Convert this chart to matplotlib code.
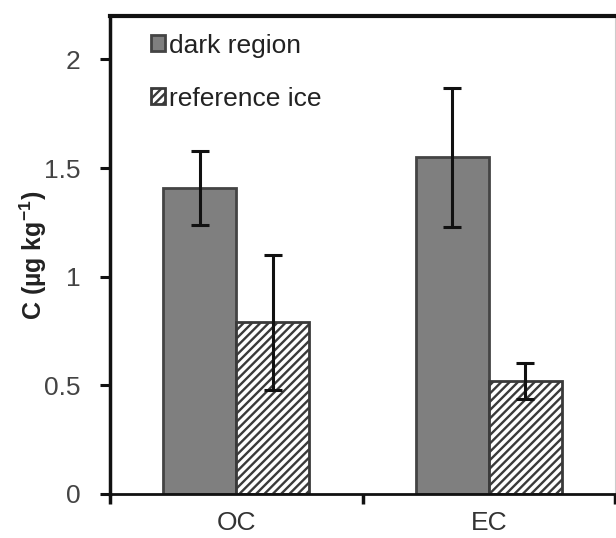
import numpy as np
import matplotlib
matplotlib.use('Agg')
import matplotlib.pyplot as plt

categories = ['OC', 'EC']
series = ['dark region', 'reference ice']
dark_vals = [1.41, 1.55]
dark_err = [0.17, 0.32]
ref_vals = [0.79, 0.52]
ref_err = [0.31, 0.085]
yticks = [0, 0.5, 1, 1.5, 2]
ytick_labels = ['0', '0.5', '1', '1.5', '2']

plt.rcParams['font.family'] = ['Liberation Sans', 'DejaVu Sans']
plt.rcParams['mathtext.fontset'] = 'custom'
plt.rcParams['mathtext.rm'] = 'Liberation Sans'
plt.rcParams['mathtext.bf'] = 'Liberation Sans:bold'
plt.rcParams['hatch.linewidth'] = 1.7
plt.rcParams['hatch.color'] = '#3a3a3a'

fig = plt.figure(figsize=(6.16, 5.38), dpi=100)
ax = fig.add_axes([0.1786, 0.0818, 0.8198, 0.8885])

x = np.arange(len(categories))
w = 0.29
err_kw = dict(ecolor='#111111', elinewidth=2.2, capsize=6.5, capthick=2.2)

ax.bar(x - w / 2, dark_vals, w, yerr=dark_err, color='#7f7f7f',
       edgecolor='#444444', linewidth=2, label=series[0], error_kw=err_kw, zorder=2)
ax.bar(x + w / 2, ref_vals, w, yerr=ref_err, color='white', hatch='////',
       edgecolor='#3a3a3a', linewidth=2, label=series[1], error_kw=err_kw, zorder=2)

ax.set_xlim(-0.5, 1.5)
ax.set_ylim(0, 2.2)
ax.set_yticks(yticks)
ax.set_yticklabels(ytick_labels)
ax.set_xticks([-0.5, 0.5, 1.5])
ax.set_xticklabels([])
ax.set_xticks(x, minor=True)
ax.set_xticklabels(categories, minor=True)
ax.tick_params(axis='x', which='minor', length=0, pad=12, labelsize=19, labelcolor='#333333')
ax.tick_params(axis='x', which='major', direction='out', length=7, width=2.5, color='#111111')
ax.tick_params(axis='y', direction='out', length=7, width=2.2, color='#111111',
               labelsize=19, labelcolor='#444444', pad=14)

ax.spines['top'].set_linewidth(3)
ax.spines['top'].set_color('#111111')
ax.spines['left'].set_linewidth(2.5)
ax.spines['left'].set_color('#111111')
ax.spines['bottom'].set_linewidth(2)
ax.spines['bottom'].set_color('#111111')
ax.spines['right'].set_linewidth(0.8)
ax.spines['right'].set_color('#cccccc')

ax.set_ylabel(r'C (µg kg$^{\mathbf{-1}}$)', fontsize=18, fontweight='bold',
              color='#222222')
ax.yaxis.set_label_coords(-0.12, 0.5)

leg = ax.legend(loc='upper left', bbox_to_anchor=(0.06, 0.985), frameon=False,
                fontsize=19, handlelength=0.55, handleheight=0.55,
                handletextpad=0.15, labelspacing=1.1, borderaxespad=0)
for t in leg.get_texts():
    t.set_color('#222222')

fig.savefig('out.png', dpi=100)
